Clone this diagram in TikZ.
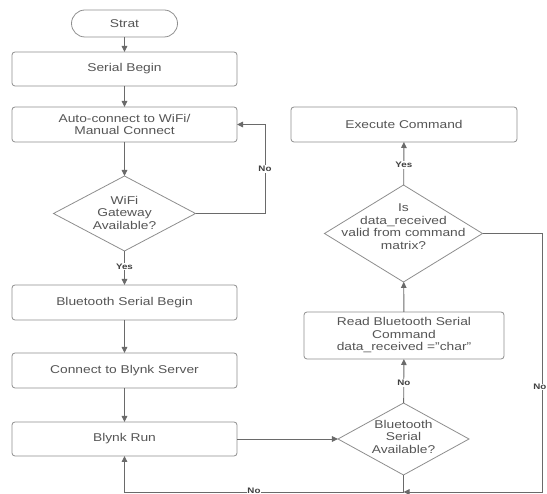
\documentclass[tikz,border=0pt]{standalone}
\usepackage{fontspec}
\setmainfont{Liberation Sans}[FakeStretch=1.22]
\usetikzlibrary{shapes.geometric,arrows.meta}
\definecolor{txt}{HTML}{555555}
\definecolor{edge}{HTML}{8E8E8E}
\definecolor{conn}{HTML}{6A6A6A}
\definecolor{lab}{HTML}{404040}
\tikzset{
  x=1pt, y=-1pt,
  box/.style={draw=edge, line width=0.8pt, rectangle, rounded corners=3pt, inner sep=0pt, outer sep=0pt,
    text=txt, font=\fontsize{11.3}{12.5}\selectfont, align=center},
  pill/.style={box, rounded corners=13.5pt},
  dia/.style={draw=edge, line width=0.8pt, diamond, inner sep=0pt, outer sep=0pt},
  dtext/.style={text=txt, font=\fontsize{11.3}{12.5}\selectfont, align=center, inner sep=0pt},
  link/.style={draw=conn, line width=0.9pt, -{Triangle[length=6pt,width=5.5pt]}},
  plain/.style={draw=conn, line width=0.9pt},
  yn/.style={fill=white, text=lab, font=\fontsize{8}{9}\selectfont\bfseries, inner sep=1pt}
}
\begin{document}
\begin{tikzpicture}
\useasboundingbox[fill=white] (0,0) rectangle (547,494);
% left column
\node[pill, minimum width=106pt, minimum height=27pt] (start) at (124.5,23.5) {Strat};
\node[box, minimum width=225pt, minimum height=34pt] (serial) at (124.5,69) {Serial Begin};
\node[box, minimum width=225pt, minimum height=35pt] (auto) at (124.5,124.5) {Auto-connect to WiFi/\\Manual Connect};
\node[dia, minimum width=142pt, minimum height=75pt] (wifi) at (124.5,213.5) {};
\node[dtext] (wifit) at (124.5,212.5) {WiFi\\Gateway\\Available?};
\node[box, minimum width=225pt, minimum height=35pt] (bt) at (124.5,302.5) {Bluetooth Serial Begin};
\node[box, minimum width=225pt, minimum height=35pt] (blynk) at (124.5,370.5) {Connect to Blynk Server};
\node[box, minimum width=225pt, minimum height=34pt] (run) at (124.5,439) {Blynk Run};
% right column
\node[dia, minimum width=131pt, minimum height=72pt] (avail) at (403.5,439) {};
\node[dtext] (availt) at (403.5,436.5) {Bluetooth\\Serial\\Available?};
\node[box, minimum width=200pt, minimum height=47pt] (read) at (404,335.5) {Read Bluetooth Serial\\Command\\data\_received ="char"};
\node[dia, minimum width=158pt, minimum height=97pt] (valid) at (403.5,233.5) {};
\node[dtext] (validt) at (403.5,226.5) {Is\\data\_received\\valid from command\\matrix?};
\node[box, minimum width=226pt, minimum height=35pt] (exec) at (404,124.5) {Execute Command};
% helper coordinates
\coordinate (nr) at (265,213.5);
\coordinate (rr) at (542,233.5);
\coordinate (rb) at (542,492);
\coordinate (j) at (403.5,492);
\coordinate (lb) at (124.5,492);
% connectors
\draw[link] (start) -- (serial);
\draw[link] (serial) -- (auto);
\draw[link] (auto) -- (wifi);
\draw[link] (wifi.east) -- (nr) |- node[yn, pos=0.25] {No} (auto.east);
\draw[link] (wifi) -- node[yn, pos=0.45] {Yes} (bt);
\draw[link] (bt) -- (blynk);
\draw[link] (blynk) -- (run);
\draw[link] (run) -- (avail);
\draw[link] (avail) -- node[yn, pos=0.45] {No} (read);
\draw[link] (read) -- (valid);
\draw[link] (valid) -- node[yn, pos=0.47] {Yes} (exec);
\draw[link] (valid.east) -- (rr) -- (rb) -- (j);
\draw[link] (avail.south) -- (j) -- (lb) -- (run.south);
\node[yn, anchor=east, inner sep=0.5pt] (no3) at (547,387) {No};
\node[yn, anchor=south, inner sep=0.5pt] (no4) at (254,494) {No};
\end{tikzpicture}
\end{document}
